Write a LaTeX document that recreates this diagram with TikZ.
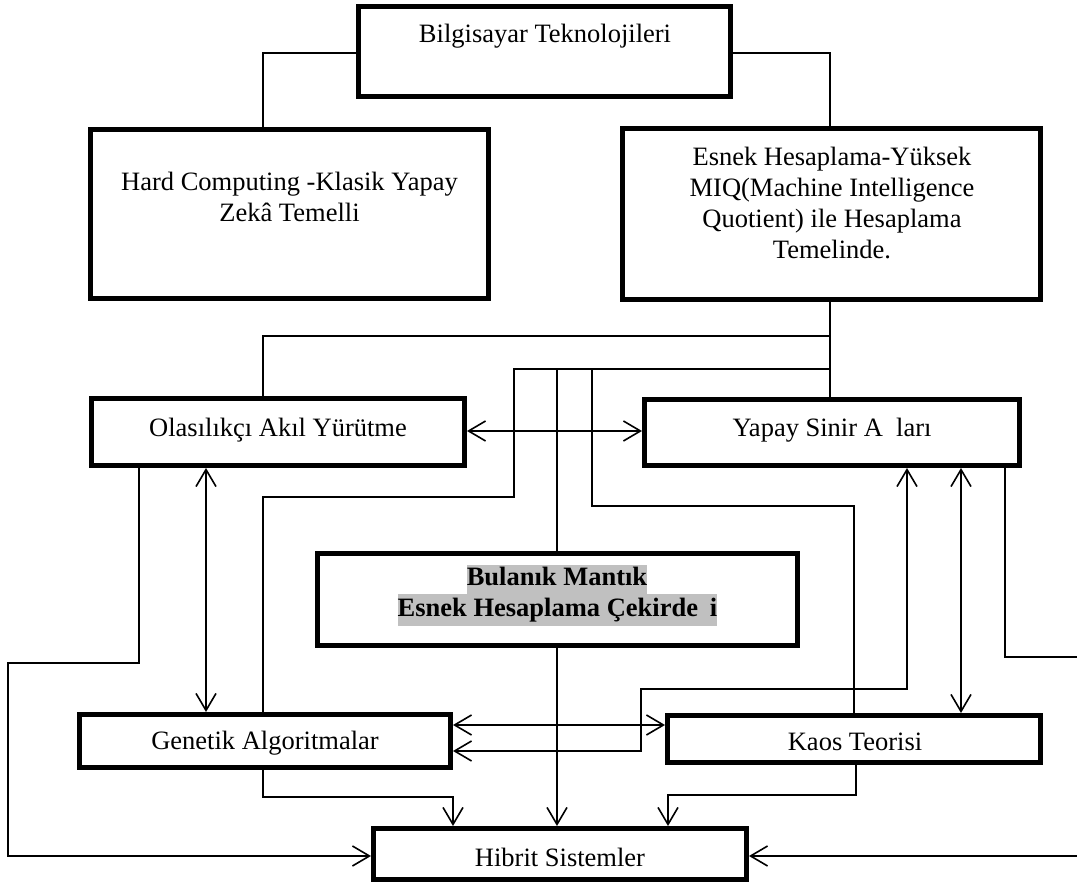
\documentclass[tikz,border=0pt]{standalone}
\usepackage{fontspec}
\setmainfont{Liberation Serif}
\usetikzlibrary{arrows.meta}
\definecolor{hl}{HTML}{C0C0C0}
\begin{document}
\begin{tikzpicture}[x=0.5pt,y=-0.5pt,
  box/.style={draw,line width=2.5pt,inner sep=0pt},
  txt/.style={font=\fontsize{13.25pt}{15.5pt}\selectfont, align=center, inner sep=0pt},
  hlt/.style={fill=hl, inner sep=0pt, font=\fontsize{13.25pt}{15.5pt}\selectfont\bfseries},
  conn/.style={line width=0.8pt},
  arr/.style={-{Straight Barb[length=8.5pt,width=10pt]}},
  darr/.style={{Straight Barb[length=8.5pt,width=10pt]}-{Straight Barb[length=8.5pt,width=10pt]}}]
\useasboundingbox (0,0) rectangle (1077,886);
% boxes
\node[box,minimum width=186pt,minimum height=45pt] (top) at (544.5,51.5) {};
\node[box,minimum width=199pt,minimum height=84.5pt] (hard) at (289.5,214) {};
\node[box,minimum width=209pt,minimum height=85.5pt] (esnek) at (831.5,214) {};
\node[box,minimum width=186.5pt,minimum height=33.5pt] (olas) at (278,432) {};
\node[box,minimum width=187.5pt,minimum height=33pt] (yapay) at (832,432.5) {};
\node[box,minimum width=240pt,minimum height=46pt] (bul) at (557.5,599.5) {};
\node[box,minimum width=185.5pt,minimum height=26.5pt] (gen) at (265,741) {};
\node[box,minimum width=186.5pt,minimum height=23.5pt] (kaos) at (854,739) {};
\node[box,minimum width=186.5pt,minimum height=25.5pt] (hib) at (560,854) {};
% texts
\node[txt] (top-t) at (545,36) {Bilgisayar Teknolojileri};
\node[txt] (hard-t) at (289.5,197) {Hard Computing -Klasik Yapay\\Zekâ Temelli};
\node[txt] (esnek-t) at (832,203) {Esnek Hesaplama-Yüksek\\MIQ(Machine Intelligence\\Quotient) ile Hesaplama\\Temelinde.};
\node[txt] (olas-t) at (278,430) {Olasılıkçı Akıl Yürütme};
\node[txt] (yapay-t) at (832,430) {Yapay Sinir A\hspace{0.5em}ları};
\node[hlt,text height=10.5pt,text depth=4pt] (bul1) at (557,579.5) {Bulanık Mantık};
\node[hlt,text height=11.5pt,text depth=4.5pt] (bul2) at (557.5,610) {Esnek Hesaplama Çekirde\hspace{0.45em}i};
\node[txt] (gen-t) at (265,743) {Genetik Algoritmalar};
\node[txt] (kaos-t) at (855,742) {Kaos Teorisi};
\node[txt] (hib-t) at (560,857) {Hibrit Sistemler};
% junctions
\coordinate (j1) at (830,336);
\coordinate (j2) at (830,369);
\coordinate (j3) at (557,369);
\coordinate (j4) at (592,369);
% connectors
\draw[conn] (top.west |- 0,53) -| (263,0 |- hard.north);
\draw[conn] (top.east |- 0,53) -| (830,0 |- esnek.north);
\draw[conn] (830,0 |- esnek.south) -- (830,0 |- yapay.north);
\draw[conn] (j1) -| (263,0 |- olas.north);
\draw[conn] (j2) -| (514,497) -| (263,0 |- gen.north);
\draw[conn] (j3) -- (557,0 |- bul.north);
\draw[conn,arr] (557,0 |- bul.south) -- (557,0 |- hib.north);
\draw[conn] (j4) |- (854,506) -- (854,0 |- kaos.north);
\draw[conn,darr] (olas.east |- 0,431) -- (yapay.west |- 0,431);
\draw[conn,arr] (139,0 |- olas.south) |- (8,663) |- (hib.west |- 0,856);
\draw[conn,darr] (206,0 |- olas.south) -- (206,0 |- gen.north);
\draw[conn,arr] (263,0 |- gen.south) |- (453,797) -- (453,0 |- hib.north);
\draw[conn,darr] (gen.east |- 0,725) -- (kaos.west |- 0,725);
\draw[conn,darr] (907,0 |- yapay.south) |- (641,689) |- (gen.east |- 0,751);
\draw[conn,darr] (961,0 |- yapay.south) -- (961,0 |- kaos.north);
\draw[conn,arr] (1005,0 |- yapay.south) |- (1079,657) |- (hib.east |- 0,856);
\draw[conn,arr] (856,0 |- kaos.south) |- (668,795) -- (668,0 |- hib.north);
\end{tikzpicture}
\end{document}
